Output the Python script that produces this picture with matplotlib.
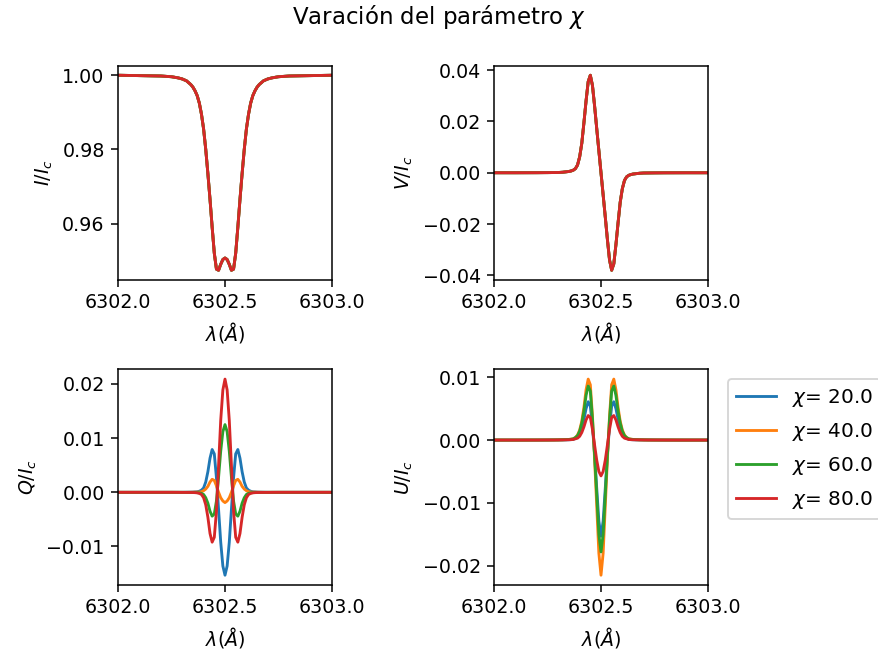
import matplotlib
matplotlib.use("Agg")
import matplotlib.pyplot as plt

# wavelength grid (Angstrom), denser around line centre
lam = [6302.00, 6302.10, 6302.20, 6302.25, 6302.28, 6302.30, 6302.32, 6302.34,
       6302.35, 6302.36, 6302.37, 6302.38, 6302.39, 6302.40, 6302.41, 6302.42,
       6302.43, 6302.44, 6302.45, 6302.46, 6302.47, 6302.48, 6302.49,
       6302.50,
       6302.51, 6302.52, 6302.53, 6302.54, 6302.55, 6302.56, 6302.57, 6302.58,
       6302.59, 6302.60, 6302.61, 6302.62, 6302.63, 6302.64, 6302.65,
       6302.66, 6302.68, 6302.70, 6302.72, 6302.75, 6302.80, 6302.90, 6303.00]

chis = [20.0, 40.0, 60.0, 80.0]
colors = ['#1f77b4', '#ff7f0e', '#2ca02c', '#d62728']

# I and V are the same for every chi
stokes_i = [1.0000, 0.9999, 0.9998, 0.9996, 0.9993, 0.9990, 0.9985, 0.9975,
            0.9968, 0.9958, 0.9945, 0.9925, 0.9895, 0.9855, 0.9800, 0.9735,
            0.9665, 0.9590, 0.9520, 0.9477, 0.9474, 0.9490, 0.9503,
            0.9507,
            0.9503, 0.9490, 0.9474, 0.9477, 0.9520, 0.9590, 0.9665, 0.9735,
            0.9800, 0.9855, 0.9895, 0.9925, 0.9945, 0.9958, 0.9968,
            0.9975, 0.9985, 0.9990, 0.9993, 0.9996, 0.9998, 0.9999, 1.0000]

stokes_v = [0.0, 0.0, 0.00002, 0.00005, 0.00008, 0.0001, 0.0002, 0.0004,
            0.0005, 0.0007, 0.0010, 0.0016, 0.0030, 0.0062, 0.0115, 0.0195,
            0.0280, 0.0355, 0.0380, 0.0340, 0.0260, 0.0172, 0.0086,
            0.0,
            -0.0086, -0.0172, -0.0260, -0.0340, -0.0380, -0.0355, -0.0280, -0.0195,
            -0.0115, -0.0062, -0.0030, -0.0016, -0.0010, -0.0007, -0.0005,
            -0.0004, -0.0002, -0.0001, -0.00008, -0.00005, -0.00002, 0.0, 0.0]

q_20 = [0.0, 0.0, 0.0, 0.0, 0.0, 0.00001, 0.00002, 0.00004,
        0.00005, 0.00008, 0.0001, 0.0002, 0.0004, 0.0008, 0.0019, 0.0038,
        0.0063, 0.0079, 0.0071, 0.0027, -0.0032, -0.0092, -0.0136,
        -0.0153,
        -0.0136, -0.0092, -0.0032, 0.0027, 0.0071, 0.0079, 0.0063, 0.0038,
        0.0019, 0.0008, 0.0004, 0.0002, 0.0001, 0.00008, 0.00005,
        0.00004, 0.00002, 0.00001, 0.0, 0.0, 0.0, 0.0, 0.0]
q_40 = [0.0, 0.0, 0.0, 0.0, 0.0, 0.0, 0.0, 0.00001,
        0.00002, 0.00003, 0.00004, 0.00005, 0.0001, 0.0003, 0.0006, 0.0011,
        0.0019, 0.0024, 0.0022, 0.0012, 0.0000, -0.0010, -0.0016,
        -0.0019,
        -0.0016, -0.0010, 0.0000, 0.0012, 0.0022, 0.0024, 0.0019, 0.0011,
        0.0006, 0.0003, 0.0001, 0.00005, 0.00004, 0.00003, 0.00002,
        0.00001, 0.0, 0.0, 0.0, 0.0, 0.0, 0.0, 0.0]
q_60 = [0.0, 0.0, 0.0, 0.0, 0.0, -0.00001, -0.00001, -0.00002,
        -0.00003, -0.00003, -0.00005, -0.0001, -0.0002, -0.0004, -0.0010, -0.0020,
        -0.0035, -0.0044, -0.0040, -0.0016, 0.0028, 0.0076, 0.0112,
        0.0125,
        0.0112, 0.0076, 0.0028, -0.0016, -0.0040, -0.0044, -0.0035, -0.0020,
        -0.0010, -0.0004, -0.0002, -0.0001, -0.00005, -0.00003, -0.00003,
        -0.00002, -0.00001, -0.00001, 0.0, 0.0, 0.0, 0.0, 0.0]
q_80 = [0.0, 0.0, 0.0, 0.0, -0.00001, -0.00002, -0.00002, -0.00003,
        -0.00004, -0.00006, -0.0001, -0.0002, -0.0004, -0.0010, -0.0023, -0.0046,
        -0.0076, -0.0092, -0.0083, -0.0035, 0.0050, 0.0133, 0.0189,
        0.0209,
        0.0189, 0.0133, 0.0050, -0.0035, -0.0083, -0.0092, -0.0076, -0.0046,
        -0.0023, -0.0010, -0.0004, -0.0002, -0.0001, -0.00006, -0.00004,
        -0.00003, -0.00002, -0.00002, -0.00001, 0.0, 0.0, 0.0, 0.0]

u_20 = [0.0, 0.0, 0.0, 0.00001, 0.00002, 0.00002, 0.00003, 0.00004,
        0.00005, 0.00007, 0.0001, 0.0003, 0.0005, 0.0010, 0.0019, 0.0033,
        0.0050, 0.0061, 0.0054, 0.0022, -0.0023, -0.0077, -0.0129,
        -0.0153,
        -0.0129, -0.0077, -0.0023, 0.0022, 0.0054, 0.0061, 0.0050, 0.0033,
        0.0019, 0.0010, 0.0005, 0.0003, 0.0001, 0.00007, 0.00005,
        0.00004, 0.00003, 0.00002, 0.00002, 0.00001, 0.0, 0.0, 0.0]
u_40 = [0.0, 0.0, 0.00001, 0.00001, 0.00002, 0.00003, 0.00005, 0.00008,
        0.0001, 0.00015, 0.0002, 0.0004, 0.0008, 0.0016, 0.0030, 0.0052,
        0.0080, 0.0097, 0.0088, 0.0038, -0.0030, -0.0105, -0.0180,
        -0.0215,
        -0.0180, -0.0105, -0.0030, 0.0038, 0.0088, 0.0097, 0.0080, 0.0052,
        0.0030, 0.0016, 0.0008, 0.0004, 0.0002, 0.00015, 0.0001,
        0.00008, 0.00005, 0.00003, 0.00002, 0.00001, 0.00001, 0.0, 0.0]
u_60 = [0.0, 0.0, 0.00001, 0.00001, 0.00002, 0.00003, 0.00004, 0.00007,
        0.0001, 0.00013, 0.0002, 0.0004, 0.0007, 0.0014, 0.0027, 0.0046,
        0.0071, 0.0086, 0.0078, 0.0033, -0.0024, -0.0088, -0.0150,
        -0.0178,
        -0.0150, -0.0088, -0.0024, 0.0033, 0.0078, 0.0086, 0.0071, 0.0046,
        0.0027, 0.0014, 0.0007, 0.0004, 0.0002, 0.00013, 0.0001,
        0.00007, 0.00004, 0.00003, 0.00002, 0.00001, 0.00001, 0.0, 0.0]
u_80 = [0.0, 0.0, 0.0, 0.00001, 0.00001, 0.00002, 0.00003, 0.00004,
        0.00005, 0.00007, 0.0001, 0.0002, 0.0003, 0.0006, 0.0012, 0.0021,
        0.0032, 0.0039, 0.0036, 0.0017, -0.0008, -0.0032, -0.0050,
        -0.0057,
        -0.0050, -0.0032, -0.0008, 0.0017, 0.0036, 0.0039, 0.0032, 0.0021,
        0.0012, 0.0006, 0.0003, 0.0002, 0.0001, 0.00007, 0.00005,
        0.00004, 0.00003, 0.00002, 0.00001, 0.00001, 0.0, 0.0, 0.0]

stokes_q = [q_20, q_40, q_60, q_80]
stokes_u = [u_20, u_40, u_60, u_80]

x_ticks = [6302.0, 6302.5, 6303.0]
x_ticklabels = ['6302.0', '6302.5', '6303.0']

dpi = 137
fig = plt.figure(figsize=(878 / dpi, 655 / dpi), dpi=dpi)
W, H = 878.0, 655.0

def box(left, top, right, bottom):
    # pixel box -> figure fraction
    return [left / W, 1 - bottom / H, (right - left) / W, (bottom - top) / H]

ax_i = fig.add_axes(box(118, 65.5, 332, 280))
ax_v = fig.add_axes(box(494.3, 65.5, 707.7, 280))
ax_q = fig.add_axes(box(118, 369.3, 332, 585))
ax_u = fig.add_axes(box(494.3, 369.3, 707.7, 585))

for k in range(len(chis)):
    lab = r'$\chi$= ' + str(chis[k])
    ax_i.plot(lam, stokes_i, color=colors[k])
    ax_v.plot(lam, stokes_v, color=colors[k])
    ax_q.plot(lam, stokes_q[k], color=colors[k])
    ax_u.plot(lam, stokes_u[k], color=colors[k], label=lab)

for ax, name in [(ax_i, '$I/I_c$'), (ax_v, '$V/I_c$'),
                 (ax_q, '$Q/I_c$'), (ax_u, '$U/I_c$')]:
    ax.set_xlim(6302.0, 6303.0)
    ax.set_xticks(x_ticks)
    ax.set_xticklabels(x_ticklabels)
    ax.set_xlabel(r'$\lambda(\AA)$')
    ax.set_ylabel(name)

# legend sits outside the last panel, its frame runs past the figure edge
ax_u.legend(loc='upper left', bbox_to_anchor=(1.05, 1), fontsize=10.5,
            labelspacing=0.6)
fig.suptitle(r'Varación del parámetro $\chi$', y=1 - 17 / H, va='center')

fig.savefig('out.png', dpi=dpi)
